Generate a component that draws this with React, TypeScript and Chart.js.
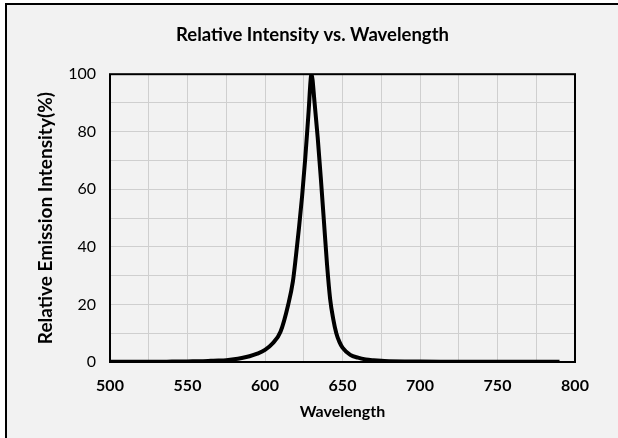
import React, { useEffect, useRef } from "react";
import { Chart, registerables } from "chart.js";

Chart.register(...registerables);

const chartTitle = "Relative Intensity vs. Wavelength";
const xAxisTitle = "Wavelength";
const yAxisTitle = "Relative Emission Intensity(%)";

const wavelengths = [
  500, 510, 520, 530, 540, 550, 555, 560, 565, 570, 575, 580, 585, 590, 595, 600,
  605, 610, 615, 618, 620, 622, 624, 626, 628, 630, 632, 634, 636, 638, 640, 642,
  644, 646, 648, 650, 655, 660, 665, 670, 675, 680, 690, 700, 720, 740, 760, 790,
];
const intensities = [
  0.1, 0.1, 0.1, 0.1, 0.15, 0.2, 0.25, 0.3, 0.4, 0.5, 0.65, 0.95, 1.4, 2.0, 2.9, 4.2,
  6.5, 10.5, 20, 28, 37, 47, 58, 71, 86, 100, 90, 78, 64, 49, 34, 22,
  15, 10, 7, 5, 2.5, 1.5, 0.9, 0.6, 0.4, 0.3, 0.2, 0.15, 0.12, 0.1, 0.1, 0.1,
];

const xMin = 500;
const xMax = 800;
const xStep = 25;
const xLabelStep = 50;
const yMin = 0;
const yMax = 100;
const yStep = 10;
const yLabelStep = 20;

const FONT = "Lato, 'Open Sans', sans-serif";

const framePlugin = {
  id: "frame",
  afterDraw(chart: any) {
    const { ctx, chartArea } = chart;
    ctx.save();
    ctx.strokeStyle = "#000";
    ctx.lineWidth = 2;
    ctx.strokeRect(
      chartArea.left,
      chartArea.top,
      chartArea.right - chartArea.left,
      chartArea.bottom - chartArea.top
    );
    ctx.restore();
  },
};

export default function App() {
  const canvasRef = useRef<HTMLCanvasElement | null>(null);

  useEffect(() => {
    if (!canvasRef.current) return;
    const points = wavelengths.map((w, i) => ({ x: w, y: intensities[i] }));
    const chart = new Chart(canvasRef.current, {
      type: "line",
      data: {
        datasets: [
          {
            data: points,
            borderColor: "#000",
            borderWidth: 4,
            pointRadius: 0,
            cubicInterpolationMode: "monotone",
            fill: false,
          },
        ],
      },
      options: {
        animation: false,
        responsive: false,
        devicePixelRatio: 1,
        layout: { padding: { left: 0, right: 0, top: 0, bottom: 0 } },
        plugins: {
          legend: { display: false },
          tooltip: { enabled: false },
          title: {
            display: true,
            text: chartTitle,
            color: "#000",
            font: { family: FONT, size: 18.5, weight: "bold" },
            padding: { top: 19, bottom: 28 },
          },
        },
        scales: {
          x: {
            type: "linear",
            min: xMin,
            max: xMax,
            afterFit: (scale: any) => {
              scale.height = 76;
              scale.paddingRight = 43;
            },
            ticks: {
              stepSize: xStep,
              autoSkip: false,
              maxRotation: 0,
              padding: 14,
              color: "#000",
              font: { family: FONT, size: 16, weight: "bold" },
              callback: (v: any) => (Number(v) % xLabelStep === 0 ? String(v) : ""),
            },
            grid: { color: "#cfcfcf", lineWidth: 1, drawTicks: false },
            border: { display: false },
            title: {
              display: true,
              text: xAxisTitle,
              color: "#000",
              font: { family: FONT, size: 16, weight: "bold" },
              padding: { top: 0, bottom: 17 },
            },
          },
          y: {
            type: "linear",
            min: yMin,
            max: yMax,
            afterFit: (scale: any) => {
              scale.width = 103;
            },
            ticks: {
              stepSize: yStep,
              autoSkip: false,
              padding: 14,
              color: "#000",
              font: { family: FONT, size: 16 },
              callback: (v: any) => (Number(v) % yLabelStep === 0 ? String(v) : ""),
            },
            grid: { color: "#cfcfcf", lineWidth: 1, drawTicks: false },
            border: { display: false },
            title: {
              display: true,
              text: yAxisTitle,
              color: "#000",
              font: { family: FONT, size: 19, weight: "bold" },
              padding: { top: 27, bottom: 0 },
            },
          },
        },
      },
      plugins: [framePlugin],
    });
    return () => chart.destroy();
  }, []);

  return (
    <div
      style={{
        position: "absolute",
        left: 0,
        top: 0,
        width: 618,
        height: 438,
        background: "#fff",
        overflow: "hidden",
      }}
    >
      <div
        style={{
          position: "absolute",
          left: 5,
          top: 3,
          width: 611,
          height: 433,
          borderLeft: "2px solid #000",
          borderTop: "2px solid #000",
          background: "#f2f2f2",
        }}
      >
        <canvas ref={canvasRef} width={611} height={433} style={{ display: "block" }} />
      </div>
    </div>
  );
}
